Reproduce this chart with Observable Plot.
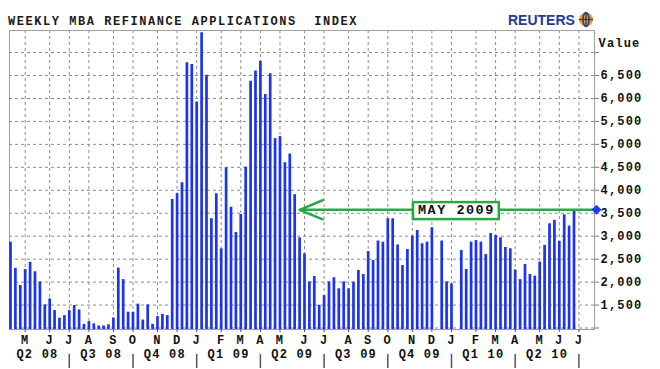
<!DOCTYPE html>
<html><head><meta charset="utf-8">
<script src="https://cdn.jsdelivr.net/npm/d3@7"></script>
<script src="https://cdn.jsdelivr.net/npm/@observablehq/plot@0.6"></script>
<style>
body{margin:0;background:#fff;width:660px;height:369px;overflow:hidden;}
svg{display:block}
</style></head><body>
<svg id="header" width="660" height="30"></svg>
<div id="chart"></div>
<script>
// ---- data ----
const title = "WEEKLY MBA REFINANCE APPLICATIONS  INDEX";
const brand = "REUTERS";
const firstWeek = "2008-04-11";
const lastWeek = "2010-06-25";
const values = [
  2870, 2300, 1925, 2275, 2430, 2225, 2005, 1505, 1635, 1380, 1215, 1270, 1380, 1490, 1395, 1080,
  1140, 1090, 1045, 1045, 1070, 1220, 2305, 2055, 1345, 1345, 1520, 1175, 1505, 1080, 1250, 1295,
  1270, 3800, 3925, 4165, 6780, 6740, 5925, 7430, 6505, 3380, 3925, 2725, 4490, 3630, 3080, 3475,
  4505, 6375, 6600, 6810, 6085, 6540, 5125, 5170, 4600, 4790, 3905, 2965, 2615, 2005, 2120, 1495,
  1705, 2005, 2095, 1855, 2005, 1855, 2000, 2255, 2165, 2665, 2470, 2895, 2870, 3380, 3380, 2810,
  2360, 2710, 3000, 3125, 2835, 2870, 3185, null, 2895, 2005, 1960, null, 2690, 2275, 2870, 2905,
  2870, 2600, 3060, 3015, 2965, 2755, 2725, 2265, 2055, 2385, 2165, 2130, 2435, 2800, 3270, 3345,
  2885, 3465, 3220, 3575
];
const monthTicks = [
  "2008-05-02","2008-06-06","2008-07-04","2008-08-01","2008-09-05","2008-10-03","2008-11-07","2008-12-05",
  "2009-01-02","2009-02-06","2009-03-06","2009-04-03","2009-05-01","2009-06-05","2009-07-03","2009-08-07",
  "2009-09-04","2009-10-02","2009-11-06","2009-12-04","2010-01-01","2010-02-05","2010-03-05","2010-04-02",
  "2010-05-07","2010-06-04","2010-07-02"
];
const monthLabels = ["M","J","J","A","S","O","N","D","J","F","M","A","M","J","J","A","S","O","N","D","J","F","M","A","M","J","J"];
const quarterStarts = ["2008-04-04","2008-07-04","2008-10-03","2009-01-02","2009-04-03","2009-07-03","2009-10-02","2010-01-01","2010-04-02","2010-07-02"];
const quarterLabels = ["Q2 08","Q3 08","Q4 08","Q1 09","Q2 09","Q3 09","Q4 09","Q1 10","Q2 10"];
const yTicks = [1000,1500,2000,2500,3000,3500,4000,4500,5000,5500,6000,6500,7000];
const yTickLabels = ["","1,500","2,000","2,500","3,000","3,500","4,000","4,500","5,000","5,500","6,000","6,500",""];
const yLabel = "Value";
const annotationLabel = "MAY 2009";
const annotationFrom = "2009-05-29";
const annotationLabelAt = "2010-01-08";

// ---- header ----
const header = d3.select("#header");
header.append("text").attr("x", 8).attr("y", 25)
  .attr("style", "white-space:pre;font:bold 12px 'Liberation Mono','DejaVu Sans Mono',monospace;letter-spacing:1.55px;fill:#1a1a1a")
  .text(title);
header.append("text").attr("x", 508).attr("y", 25)
  .attr("style", "font:bold 14px 'Liberation Sans',Arial,sans-serif;fill:#233a96")
  .text(brand);
const globe = header.append("g").attr("transform", "translate(586,19.5)");
globe.append("circle").attr("r", 7).attr("fill", "#f5a21e");
globe.append("ellipse").attr("rx", 3).attr("ry", 7).attr("fill", "none").attr("stroke", "#233a96").attr("stroke-width", 1.6);
globe.append("line").attr("x1", -7).attr("x2", 7).attr("stroke", "#233a96").attr("stroke-width", 1.4);
globe.append("line").attr("y1", -7).attr("y2", 7).attr("stroke", "#233a96").attr("stroke-width", 1.4);

// ---- chart ----
const parse = d3.utcParse("%Y-%m-%d");
const weeks = d3.utcFriday.range(parse(firstWeek), d3.utcDay.offset(parse(lastWeek), 1));
const data = weeks.map((date, i) => ({date, value: values[i]}));
const monthDates = monthTicks.map(parse);
const monthLabelOf = new Map(monthDates.map((d, i) => [+d, monthLabels[i]]));
const qDates = quarterStarts.map(parse);
const quarters = quarterLabels.map((label, i) => ({label, mid: new Date((+qDates[i] + +qDates[i + 1]) / 2)}));
const separators = qDates.slice(1);
const yLabelOf = new Map(yTicks.map((v, i) => [v, yTickLabels[i]]));
const last = data[data.length - 1];
const xDomain = [new Date(Date.UTC(2008, 3, 9, 14)), new Date(Date.UTC(2010, 6, 24, 7))];
const green = "#2aa846";
const grid = {stroke: "#8c8c8c", strokeOpacity: 1, strokeDasharray: "3,3", strokeWidth: 1};

const chart = Plot.plot({
  width: 660, height: 339,
  marginTop: 0, marginBottom: 40, marginLeft: 9, marginRight: 66,
  style: {fontFamily: "'Liberation Mono','DejaVu Sans Mono',monospace", fontWeight: "bold", fontSize: "12px", letterSpacing: "1.2px", color: "#111", background: "#fff", overflow: "visible"},
  x: {type: "utc", domain: xDomain, axis: null},
  y: {domain: [968, 7480], axis: null},
  marks: [
    Plot.gridY(yTicks, grid),
    Plot.gridX(monthDates, grid),
    Plot.frame({stroke: "#a0a0a0"}),
    Plot.ruleX(data.filter(d => d.value != null), {x: "date", y1: 0, y2: "value", stroke: "#1c34f0", strokeWidth: 2.7, clip: true}),
    Plot.axisY(yTicks, {anchor: "right", tickSize: 4, tickPadding: 2, tickFormat: v => yLabelOf.get(v), textAnchor: "start", label: null, stroke: "#777"}),
    Plot.axisX(monthDates, {anchor: "bottom", tickSize: 3, tickPadding: 3, tickFormat: d => monthLabelOf.get(+d), label: null, stroke: "#555"}),
    Plot.axisX(separators, {anchor: "bottom", tickSize: 14, dy: 25, tickFormat: () => "", label: null, stroke: "#555", strokeWidth: 1.5}),
    Plot.text(quarters, {x: "mid", text: "label", frameAnchor: "bottom", dy: 28}),
    Plot.text([yLabel], {frameAnchor: "top-right", dx: 4, dy: 8, textAnchor: "start"}),
    Plot.arrow([last], {x1: () => xDomain[1], y1: "value", x2: () => parse(annotationFrom), y2: "value", stroke: green, strokeWidth: 2.5, headLength: 15, headAngle: 45}),
    Plot.text([annotationLabel], {x: () => parse(annotationLabelAt), y: () => last.value, text: d => d, fontSize: 13.5, fill: "#111"}),
    Plot.dot([last], {y: "value", frameAnchor: "right", dx: 2, symbol: "diamond2", r: 4.5, fill: "#1e3cff"})
  ]
});
document.getElementById("chart").appendChild(chart);

// box around the annotation label, sized from its own text
const labelNode = Array.from(chart.querySelectorAll("text")).find(t => t.textContent === annotationLabel);
if (labelNode) {
  labelNode.style.letterSpacing = "1.5px";
  const bb = labelNode.getBBox();
  const rect = document.createElementNS("http://www.w3.org/2000/svg", "rect");
  rect.setAttribute("x", bb.x - 5);
  rect.setAttribute("y", bb.y - 1);
  rect.setAttribute("width", bb.width + 9);
  rect.setAttribute("height", bb.height + 2);
  rect.setAttribute("fill", "#fff");
  rect.setAttribute("stroke", green);
  rect.setAttribute("stroke-width", 2.5);
  const t = labelNode.getAttribute("transform");
  if (t) rect.setAttribute("transform", t);
  labelNode.parentNode.insertBefore(rect, labelNode);
}
</script>
</body></html>
